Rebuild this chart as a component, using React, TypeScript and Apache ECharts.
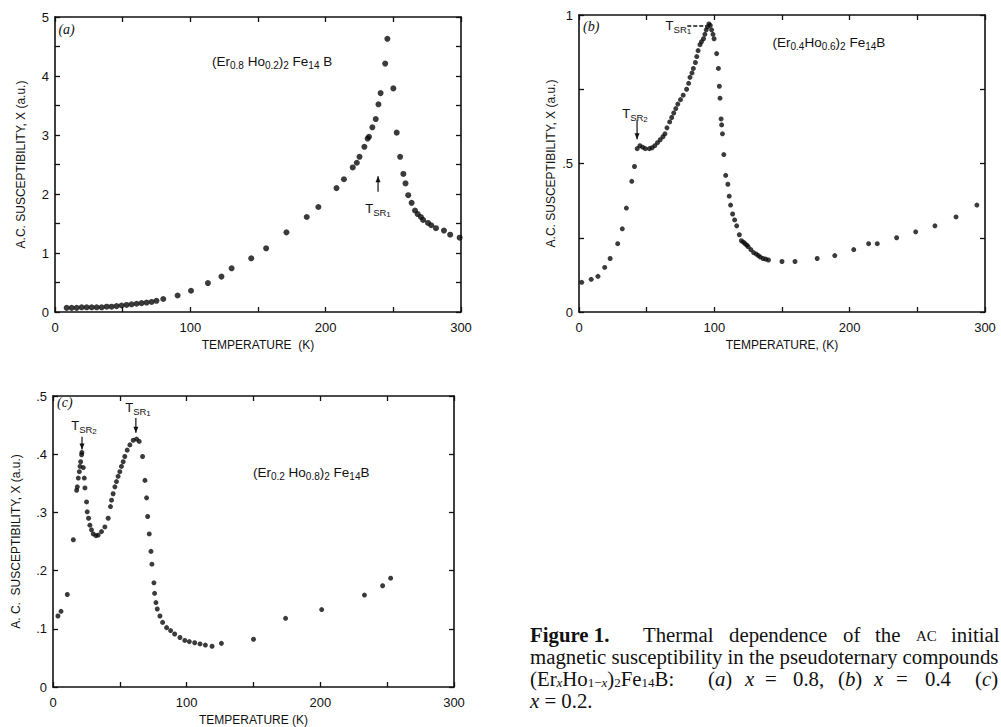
import React, { useEffect, useRef } from 'react';
import * as echarts from 'echarts';

// ---------- data: [temperature K, chi (a.u.)] ----------
const pointsA: number[][] = [
  [8.6, 0.07], [12.3, 0.07], [16, 0.07], [19.7, 0.08], [23.4, 0.08], [27.1, 0.08], [30.8, 0.08],
  [34.5, 0.08], [38.2, 0.09], [41.8, 0.09], [45.5, 0.1], [49.2, 0.11], [52.9, 0.12], [56.6, 0.13],
  [60.3, 0.14], [64, 0.15], [67.7, 0.16], [71.4, 0.17], [75, 0.19], [80, 0.22], [90.6, 0.28],
  [100.5, 0.36], [113, 0.49], [123, 0.6], [130.5, 0.74], [145, 0.91], [156, 1.08], [171, 1.35],
  [186, 1.61], [194.6, 1.78], [208, 2.1], [213.5, 2.25], [220, 2.45], [223, 2.53], [225, 2.63],
  [228.6, 2.8], [231, 2.94], [232, 2.97], [234.5, 3.13], [237, 3.27], [239, 3.52], [240.6, 3.71],
  [244, 4.21], [245.6, 4.63], [250, 3.79], [252.5, 3.04], [255, 2.63], [257.4, 2.34], [259, 2.18],
  [261, 1.98], [263.5, 1.85], [266, 1.72], [268, 1.66], [270.4, 1.61], [272, 1.56], [275.6, 1.51],
  [278, 1.47], [281.5, 1.42], [287.4, 1.38], [292, 1.31], [299, 1.26],
];

const pointsB: number[][] = [
  [2, 0.1], [9, 0.11], [14, 0.12], [19, 0.15], [23, 0.18], [28.6, 0.23], [32, 0.28], [35, 0.35],
  [39, 0.44], [41, 0.49], [43, 0.55], [45, 0.56], [47, 0.555], [49, 0.55], [52, 0.55], [54, 0.553],
  [56, 0.56], [58, 0.57], [60, 0.58], [62, 0.59], [63.5, 0.6], [65, 0.62], [67, 0.64], [68.5, 0.655],
  [70, 0.67], [71.5, 0.685], [73, 0.7], [75, 0.715], [77, 0.73], [79.5, 0.75], [81, 0.77], [82, 0.79],
  [83.5, 0.805], [84.5, 0.82], [86, 0.84], [87, 0.86], [88, 0.88], [89.4, 0.9], [90.5, 0.91],
  [92, 0.92], [93, 0.935], [94, 0.95], [95, 0.96], [96, 0.97], [97, 0.965], [98, 0.95], [99, 0.935],
  [99.8, 0.92], [101.7, 0.87], [103, 0.82], [103.7, 0.76], [104.2, 0.72], [105, 0.65], [105.4, 0.63],
  [106, 0.6], [107, 0.53], [108.4, 0.46], [110, 0.43], [111, 0.39], [112, 0.36], [113.5, 0.33],
  [115, 0.31], [116.5, 0.29], [118.5, 0.26], [120, 0.24], [121.5, 0.235], [122.7, 0.23], [124, 0.225],
  [125, 0.22], [127, 0.21], [129, 0.2], [131, 0.195], [132.5, 0.19], [134, 0.185], [136, 0.18],
  [138, 0.178], [140, 0.175], [150, 0.17], [159.6, 0.17], [176, 0.18], [189, 0.19], [203, 0.21],
  [214, 0.23], [220.4, 0.23], [234.7, 0.25], [248.8, 0.27], [263, 0.29], [278.6, 0.32], [294, 0.36],
];

const pointsC: number[][] = [
  [3.7, 0.122], [6, 0.13], [10.7, 0.159], [15.2, 0.253], [17.7, 0.338], [18.2, 0.344], [18.9, 0.359],
  [19.7, 0.37], [20.2, 0.379], [20.7, 0.387], [21.4, 0.399], [21.6, 0.403], [22.7, 0.377], [23.4, 0.359],
  [23.9, 0.342], [25.1, 0.318], [25.6, 0.301], [26.6, 0.29], [27.6, 0.278], [28.8, 0.27], [30.1, 0.263],
  [32.1, 0.26], [33.8, 0.261], [36.3, 0.267], [38.8, 0.275], [41.3, 0.29], [43, 0.31], [43.8, 0.321],
  [45, 0.332], [46.3, 0.344], [47.5, 0.353], [48.7, 0.362], [50, 0.37], [51.2, 0.379], [52.5, 0.387],
  [53.7, 0.396], [55.5, 0.407], [57.5, 0.416], [60, 0.424], [62.5, 0.426], [64.5, 0.422], [67, 0.396],
  [68.8, 0.355], [70, 0.325], [70.8, 0.293], [72, 0.263], [73.3, 0.233], [74, 0.211], [75.5, 0.179],
  [76, 0.161], [77, 0.145], [78, 0.134], [80, 0.122], [82, 0.111], [85, 0.102], [88, 0.097],
  [91, 0.091], [95, 0.085], [98.6, 0.08], [102, 0.078], [106, 0.076], [110, 0.074], [114, 0.072],
  [119, 0.07], [126, 0.075], [150, 0.082], [174, 0.118], [201, 0.133], [233, 0.158], [246.6, 0.174],
  [252.6, 0.187],
];

const xTickLabels = [0, 100, 200, 300];
const yTickLabelsA = [0, 1, 2, 3, 4, 5];
const yTickLabelsB = [0, 0.5, 1];
const yTickLabelsC = [0, 0.1, 0.2, 0.3, 0.4, 0.5];

const SANS = '"Liberation Sans", Arial, sans-serif';
const SERIF = '"Liberation Serif", "Times New Roman", serif';
const INK = '#111';

const near = (list: number[], v: number) => list.some((t) => Math.abs(t - v) < 1e-6);
const dotFmt = (v: number) => (v === 0 ? '0' : String(Math.round(v * 100) / 100).replace(/^0\./, '.'));

function xAxes(grid: number, name: string) {
  const common: any = {
    gridIndex: grid, type: 'value', min: 0, max: 300, interval: 50,
    axisLine: { show: true, onZero: false, lineStyle: { color: INK, width: 1.6 } },
    axisTick: { show: true, inside: true, length: 5, lineStyle: { color: INK, width: 1.3 } },
    splitLine: { show: false },
  };
  return [
    {
      ...common, position: 'bottom',
      axisLabel: {
        show: true, margin: 9, fontSize: 13, color: INK, fontFamily: SANS,
        formatter: (v: number) => (near(xTickLabels, v) ? String(v) : ''),
      },
      name, nameLocation: 'middle', nameGap: 27,
      nameTextStyle: { fontSize: 12, color: INK, fontFamily: SANS },
    },
    { ...common, position: 'top', axisLabel: { show: false } },
  ];
}

function yAxes(grid: number, max: number, interval: number, labels: number[], gap: number) {
  const common: any = {
    gridIndex: grid, type: 'value', min: 0, max, interval,
    axisLine: { show: true, onZero: false, lineStyle: { color: INK, width: 1.6 } },
    axisTick: { show: true, inside: true, length: 5, lineStyle: { color: INK, width: 1.3 } },
    splitLine: { show: false },
  };
  return [
    {
      ...common, position: 'left',
      axisLabel: {
        show: true, margin: 6, fontSize: 13, color: INK, fontFamily: SANS,
        formatter: (v: number) => (near(labels, v) ? dotFmt(v) : ''),
      },
      name: grid === 2 ? 'A. C.  SUSCEPTIBILITY, X (a.u.)' : 'A.C. SUSCEPTIBILITY, X (a.u.)',
      nameLocation: 'middle', nameGap: gap,
      nameTextStyle: { fontSize: 12, color: INK, fontFamily: SANS },
    },
    { ...common, position: 'right', axisLabel: { show: false } },
  ];
}

export default function App() {
  const ref = useRef<HTMLDivElement>(null);

  useEffect(() => {
    if (!ref.current) return;
    const chart = echarts.init(ref.current, undefined, { renderer: 'svg' });

    const scatter = (i: number, data: number[][], size: number) => ({
      type: 'scatter', xAxisIndex: 2 * i, yAxisIndex: 2 * i, data,
      symbol: 'circle', symbolSize: size, itemStyle: { color: '#0a0a0a' },
      silent: true,
    });

    chart.setOption({
      animation: false,
      backgroundColor: '#fff',
      grid: [
        { left: 55, top: 17, width: 406, height: 295 },
        { left: 579, top: 15, width: 406, height: 297 },
        { left: 53, top: 396, width: 401, height: 291 },
      ],
      xAxis: [
        ...xAxes(0, 'TEMPERATURE  (K)'),
        ...xAxes(1, 'TEMPERATURE, (K)'),
        ...xAxes(2, 'TEMPERATURE (K)'),
      ],
      yAxis: [
        ...yAxes(0, 5, 0.5, yTickLabelsA, 28),
        ...yAxes(1, 1, 0.25, yTickLabelsB, 22),
        ...yAxes(2, 0.5, 0.1, yTickLabelsC, 31),
      ],
      series: [scatter(0, pointsA, 6), scatter(1, pointsB, 5), scatter(2, pointsC, 5)],
    });

    const P = (i: number, x: number, y: number) =>
      chart.convertToPixel({ seriesIndex: i } as any, [x, y]) as number[];

    const sub = { fontSize: 10, fontFamily: SANS, fill: INK, padding: [8, 0, 0, 0] };
    const nrm = { fontSize: 13.5, fontFamily: SANS, fill: INK };
    const ssub = { fontSize: 8, fontFamily: SANS, fill: INK, padding: [12, 0, 0, 0] };

    const formula = (i: number, x: number, y: number, text: string) => {
      const p = P(i, x, y);
      return {
        type: 'text', x: p[0], y: p[1],
        style: { text, rich: { n: nrm, s: sub }, verticalAlign: 'middle', align: 'left' },
      };
    };
    const tsr = (i: number, x: number, y: number, n: string, align = 'center') => {
      const p = P(i, x, y);
      return {
        type: 'text', x: p[0], y: p[1],
        style: {
          text: `{t|T}{s|SR}{q|${n}}`,
          rich: { t: { fontSize: 13, fontFamily: SANS, fill: INK }, s: { ...sub, fontSize: 9.5 }, q: ssub },
          verticalAlign: 'middle', align,
        },
      };
    };
    const tag = (i: number, x: number, y: number, text: string) => {
      const p = P(i, x, y);
      return {
        type: 'text', x: p[0], y: p[1],
        style: { text, fontSize: 14, fontFamily: SERIF, fontStyle: 'italic', fill: INK, verticalAlign: 'middle', align: 'left' },
      };
    };
    const arrow = (i: number, x: number, y1: number, y2: number) => {
      const a = P(i, x, y1);
      const b = P(i, x, y2);
      const dir = b[1] > a[1] ? 1 : -1;
      return [
        { type: 'line', shape: { x1: a[0], y1: a[1], x2: b[0], y2: b[1] }, style: { stroke: INK, lineWidth: 1.2 } },
        {
          type: 'polygon',
          shape: { points: [[b[0], b[1]], [b[0] - 2.5, b[1] - dir * 6], [b[0] + 2.5, b[1] - dir * 6]] },
          style: { fill: INK },
        },
      ];
    };
    const dash = (i: number, x1: number, x2: number, y: number) => {
      const a = P(i, x1, y);
      const b = P(i, x2, y);
      return {
        type: 'line', shape: { x1: a[0], y1: a[1], x2: b[0], y2: b[1] },
        style: { stroke: INK, lineWidth: 1.5, lineDash: [4, 2] },
      };
    };

    // caption (justified lines placed word by word)
    const CS = 20.8;
    const capY = [634, 656, 678, 700];
    const capN = { fontSize: CS, fontFamily: SERIF, fill: INK };
    const capI = { ...capN, fontStyle: 'italic' };
    const capSub = { fontSize: 13, fontFamily: SERIF, fill: INK, padding: [8, 0, 0, 0] };
    const capSubI = { ...capSub, fontStyle: 'italic' };
    const cap = (text: string, x: number, line: number, extra: any = {}, dy = 0) => ({
      type: 'text', x, y: capY[line] + dy,
      style: {
        text, rich: { n: capN, i: capI, s: capSub, si: capSubI },
        fontSize: CS, fontFamily: SERIF, fill: INK, verticalAlign: 'middle', align: 'left', ...extra,
      },
    });

    const graphic: any[] = [
      tag(0, 2.5, 4.78, '(a)'),
      tag(1, 3, 0.96, '(b)'),
      tag(2, 3, 0.488, '(c)'),
      formula(0, 116, 4.24, '{n|(Er}{s|0.8}{n| Ho}{s|0.2}{n|)}{s|2}{n| Fe}{s|14}{n| B}'),
      formula(1, 143, 0.906, '{n|(Er}{s|0.4}{n|Ho}{s|0.6}{n|)}{s|2}{n| Fe}{s|14}{n|B}'),
      formula(2, 149.6, 0.368, '{n|(Er}{s|0.2}{n| Ho}{s|0.8}{n|)}{s|2}{n| Fe}{s|14}{n|B}'),
      ...arrow(0, 238.7, 2.04, 2.3),
      tsr(0, 238.7, 1.76, '1'),
      tsr(1, 41.4, 0.67, '2'),
      ...arrow(1, 42.9, 0.646, 0.582),
      tsr(1, 64, 0.963, '1', 'left'),
      dash(1, 80, 94, 0.963),
      tsr(2, 23.2, 0.45, '2'),
      ...arrow(2, 21.7, 0.43, 0.408),
      tsr(2, 63.6, 0.481, '1'),
      ...arrow(2, 62, 0.462, 0.437),

      cap('Figure 1.', 530, 0, { fontWeight: 'bold' }),
      cap('Thermal', 643, 0), cap('dependence', 729, 0), cap('of', 843, 0), cap('the', 875, 0),
      cap('AC', 916, 0, { fontSize: 15 }, 2), cap('initial', 951, 0),
      cap('magnetic susceptibility in the pseudoternary compounds', 530, 1),
      cap('{n|(Er}{si|x}{n|Ho}{s|1−}{si|x}{n|)}{s|2}{n|Fe}{s|14}{n|B:}', 530, 2),
      cap('{n|(}{i|a}{n|)}', 708, 2), cap('x', 745, 2, { fontStyle: 'italic' }), cap('=', 765, 2),
      cap('0.8,', 793, 2),
      cap('{n|(}{i|b}{n|)}', 838, 2), cap('x', 874, 2, { fontStyle: 'italic' }), cap('=', 896, 2),
      cap('0.4', 925, 2),
      cap('{n|(}{i|c}{n|)}', 975, 2),
      cap('{i|x}{n| = 0.2.}', 530, 3),
    ];

    chart.setOption({ graphic });

    return () => chart.dispose();
  }, []);

  return (
    <div
      ref={ref}
      style={{ position: 'absolute', left: 0, top: 0, width: 1001, height: 727, background: '#fff' }}
    />
  );
}
